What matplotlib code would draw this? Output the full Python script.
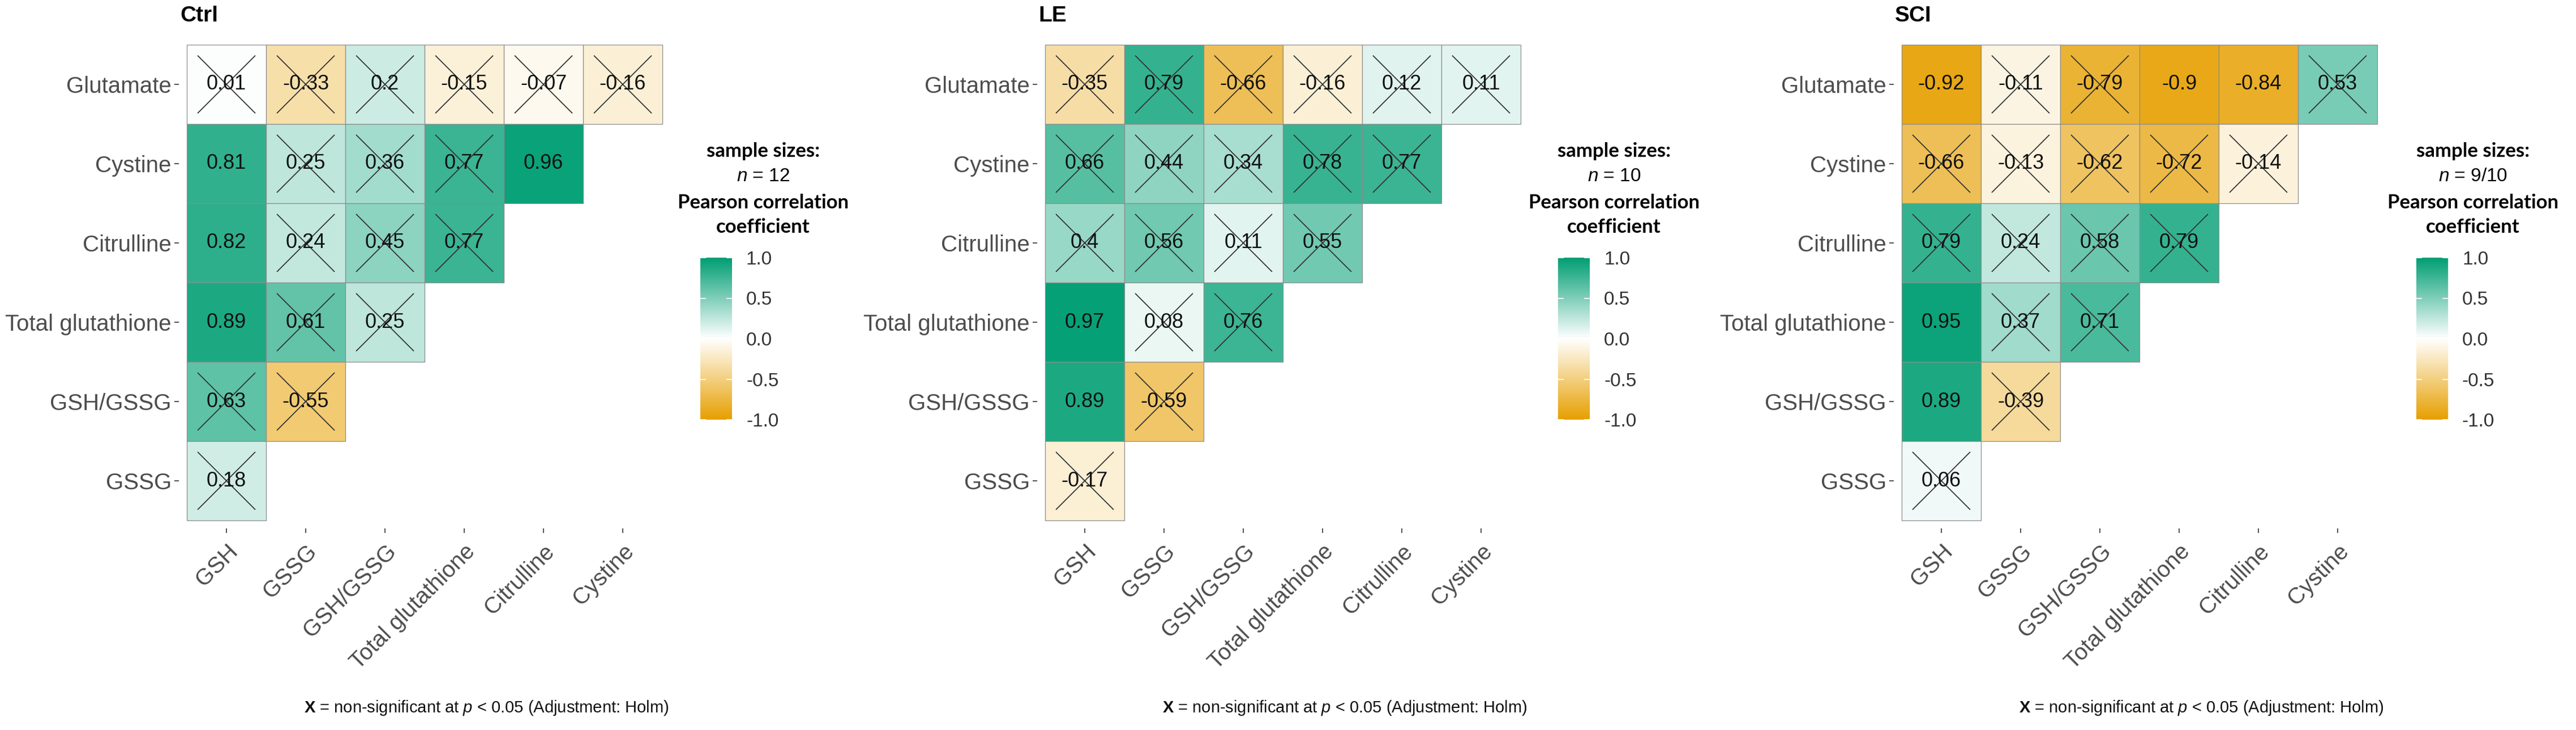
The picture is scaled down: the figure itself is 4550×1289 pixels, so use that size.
import numpy as np
import matplotlib
matplotlib.use("Agg")
import matplotlib.pyplot as plt
from matplotlib.colors import LinearSegmentedColormap, Normalize
from matplotlib.patches import Rectangle
import matplotlib.cm as cm

plt.rcParams['font.family'] = ['Liberation Sans', 'DejaVu Sans']
plt.rcParams['mathtext.fontset'] = 'custom'
plt.rcParams['mathtext.rm'] = 'Liberation Sans'
plt.rcParams['mathtext.it'] = 'Liberation Sans:italic'
plt.rcParams['mathtext.bf'] = 'Liberation Sans:bold'

# variables
col_labels = ['GSH', 'GSSG', 'GSH/GSSG', 'Total glutathione', 'Citrulline', 'Cystine']
row_labels = ['Glutamate', 'Cystine', 'Citrulline', 'Total glutathione', 'GSH/GSSG', 'GSSG']

groups = ['Ctrl', 'LE', 'SCI']
sample_sizes = ['12', '10', '9/10']

# correlation values, lower triangle, rows top -> bottom
ctrl_r = [[0.01, -0.33, 0.2, -0.15, -0.07, -0.16],
          [0.81, 0.25, 0.36, 0.77, 0.96],
          [0.82, 0.24, 0.45, 0.77],
          [0.89, 0.61, 0.25],
          [0.63, -0.55],
          [0.18]]
le_r = [[-0.35, 0.79, -0.66, -0.16, 0.12, 0.11],
        [0.66, 0.44, 0.34, 0.78, 0.77],
        [0.4, 0.56, 0.11, 0.55],
        [0.97, 0.08, 0.76],
        [0.89, -0.59],
        [-0.17]]
sci_r = [[-0.92, -0.11, -0.79, -0.9, -0.84, 0.53],
         [-0.66, -0.13, -0.62, -0.72, -0.14],
         [0.79, 0.24, 0.58, 0.79],
         [0.95, 0.37, 0.71],
         [0.89, -0.39],
         [0.06]]

# 1 = significant (no cross), 0 = non-significant
ctrl_sig = [[0, 0, 0, 0, 0, 0],
            [1, 0, 0, 0, 1],
            [1, 0, 0, 0],
            [1, 0, 0],
            [0, 0],
            [0]]
le_sig = [[0, 0, 0, 0, 0, 0],
          [0, 0, 0, 0, 0],
          [0, 0, 0, 0],
          [1, 0, 0],
          [1, 0],
          [0]]
sci_sig = [[1, 0, 0, 1, 1, 0],
           [0, 0, 0, 0, 0],
           [0, 0, 0, 0],
           [1, 0, 0],
           [1, 0],
           [0]]

all_r = [ctrl_r, le_r, sci_r]
all_sig = [ctrl_sig, le_sig, sci_sig]

cmap = LinearSegmentedColormap.from_list('corr', ['#E69F00', '#FFFFFF', '#009E73'])
norm = Normalize(vmin=-1, vmax=1)

W, H = 4550, 1289
fig = plt.figure(figsize=(W / 100, H / 100), dpi=100)


def px_axes(left, top, width, height):
    return fig.add_axes([left / W, 1 - (top + height) / H, width / W, height / H])


def px_text(x, y, s, **kw):
    return fig.text(x / W, 1 - y / H, s, **kw)


cell = 140
grid_top = 79
grid_left = [330, 1846, 3359]
cbar_left = [1237, 2752, 4268]
legend_cx = [1348, 2851, 4368]
ext = 0.1

for g in range(3):
    gl = grid_left[g]
    ax = px_axes(gl - ext * cell, grid_top - ext * cell, (6 + 2 * ext) * cell, (6 + 2 * ext) * cell)
    r_rows = all_r[g]
    s_rows = all_sig[g]
    for i, row in enumerate(r_rows):
        for j, v in enumerate(row):
            ax.add_patch(Rectangle((j - 0.5, i - 0.5), 1, 1, facecolor=cmap(norm(v)),
                                   edgecolor='#8C8C8C', linewidth=0.9))
            ax.text(j, i, f'{v:g}', ha='center', va='center', fontsize=26, color='#111111')
            if not s_rows[i][j]:
                ax.plot(j, i, marker='x', ms=73, mew=1.3, color='#333333')
    ax.set_xlim(-0.5 - ext, 5.5 + ext)
    ax.set_ylim(5.5 + ext, -0.5 - ext)
    for sp in ax.spines.values():
        sp.set_visible(False)
    ax.set_xticks(range(6))
    ax.set_yticks(range(6))
    ax.set_yticklabels(row_labels, fontsize=29, color='#4D4D4D')
    ax.set_xticklabels(col_labels, fontsize=29, color='#4D4D4D', rotation=45,
                       ha='right', rotation_mode='anchor')
    ax.tick_params(length=5.5, width=1.2, color='#333333', pad=4)
    ax.tick_params(axis='x', pad=10)

    # title
    px_text(gl - 12, 28, groups[g], fontsize=28, fontweight='bold', ha='left', va='center')

    # legend
    cx = legend_cx[g]
    px_text(cx, 267, 'sample sizes:', fontsize=25, fontweight='bold', family='Lato',
            ha='center', va='center')
    px_text(cx, 311, r'$\mathit{n}$ = ' + sample_sizes[g], fontsize=24, ha='center', va='center')
    px_text(cx, 358, 'Pearson correlation', fontsize=25, fontweight='bold', family='Lato',
            ha='center', va='center')
    px_text(cx, 401, 'coefficient', fontsize=25, fontweight='bold', family='Lato',
            ha='center', va='center')
    cax = px_axes(cbar_left[g], 455, 56, 286)
    cb = fig.colorbar(cm.ScalarMappable(norm=norm, cmap=cmap), cax=cax)
    cb.outline.set_visible(False)
    cb.set_ticks([-1, -0.5, 0, 0.5, 1])
    cb.set_ticklabels(['-1.0', '-0.5', '0.0', '0.5', '1.0'])
    cax.tick_params(direction='in', left=True, right=True, length=7, width=1.2,
                    color='white', labelsize=24, labelcolor='#333333', pad=18)

    # caption
    px_text(gl + 6 * cell + 12, 1250,
            r'$\mathbf{X}$ = non-significant at $\mathit{p}$ < 0.05 (Adjustment: Holm)',
            fontsize=21, ha='right', va='center', color='#111111')

fig.savefig('out.png', dpi=100)
